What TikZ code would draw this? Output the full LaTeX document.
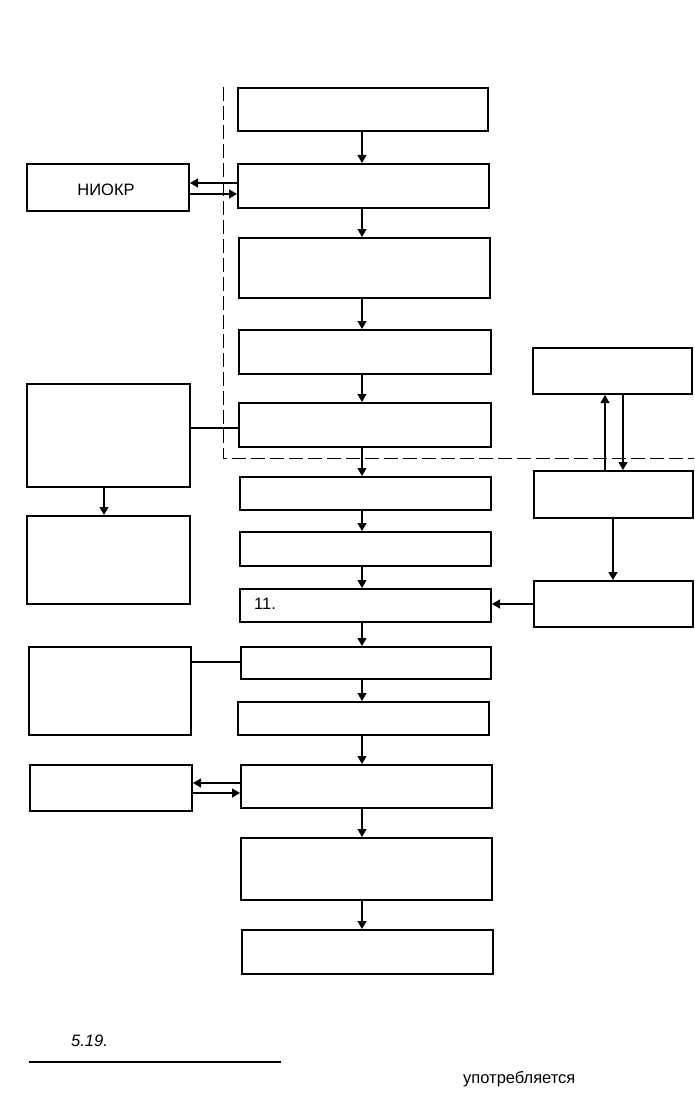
\documentclass[tikz,border=0pt]{standalone}
\usepackage{fontspec}
\setmainfont{Liberation Sans}
\usetikzlibrary{arrows.meta}
\begin{document}
\begin{tikzpicture}[x=1pt,y=-1pt,
  box/.style={draw,line width=2pt,rectangle,inner sep=0pt,anchor=north west},
  arr/.style={line width=1.2pt,-{Triangle[length=8pt,width=9pt]}},
  link/.style={line width=1.2pt},
  frame/.style={line width=1pt,dash pattern=on 14pt off 5pt},
  lbl/.style={font=\fontsize{16.5}{19}\selectfont,inner sep=0pt}]
\useasboundingbox (0,0) rectangle (694,1118);
% main column
\node[box,minimum width=250pt,minimum height=43pt] (b1) at (237,87) {};
\node[box,minimum width=251pt,minimum height=44pt] (b2) at (237,163) {};
\node[box,minimum width=251pt,minimum height=60pt] (b3) at (238,237) {};
\node[box,minimum width=252pt,minimum height=44pt] (b4) at (238,329) {};
\node[box,minimum width=252pt,minimum height=44pt] (b5) at (238,402) {};
\node[box,minimum width=251pt,minimum height=33pt] (b6) at (239,476) {};
\node[box,minimum width=251pt,minimum height=34pt] (b7) at (239,531) {};
\node[box,minimum width=251pt,minimum height=33pt] (b8) at (239,588) {};
\node[box,minimum width=250pt,minimum height=32pt] (b9) at (240,646) {};
\node[box,minimum width=251pt,minimum height=33pt] (b10) at (237,701) {};
\node[box,minimum width=251pt,minimum height=43pt] (b11) at (240,764) {};
\node[box,minimum width=251pt,minimum height=62pt] (b12) at (240,837) {};
\node[box,minimum width=251pt,minimum height=44pt] (b13) at (241,929) {};
% left column
\node[box,minimum width=162pt,minimum height=47pt] (L1) at (26,163) {};
\node[box,minimum width=163pt,minimum height=103pt] (L2) at (26,383) {};
\node[box,minimum width=163pt,minimum height=88pt] (L3) at (26,515) {};
\node[box,minimum width=162pt,minimum height=88pt] (L4) at (28,646) {};
\node[box,minimum width=162pt,minimum height=46pt] (L5) at (29,764) {};
% right column
\node[box,minimum width=159pt,minimum height=46pt] (R1) at (532,347) {};
\node[box,minimum width=159pt,minimum height=47pt] (R2) at (533,470) {};
\node[box,minimum width=159pt,minimum height=46pt] (R3) at (533,580) {};
% texts
\node[lbl] (t1) at (106,190) {НИОКР};
\node[lbl,anchor=base west] (t2) at (254,609) {11.};
\node[lbl,anchor=base west] (t3) at (71,1046) {\itshape 5.19.};
\node[lbl,anchor=base west] (t4) at (463,1083) {употребляется};
% dashed frame
\coordinate (d1) at (223,87);
\coordinate (d2) at (223,458);
\coordinate (d3) at (694,458);
\draw[frame] (d1) -- (d2) -- (d3);
% main column arrows
\foreach \a/\b in {b1/b2,b2/b3,b3/b4,b4/b5,b5/b6,b6/b7,b7/b8,b8/b9,b9/b10,b10/b11,b11/b12,b12/b13}
  \draw[arr] (\a.south -| 362,0) -- (\b.north -| 362,0);
% side connectors
\draw[arr] (b2.west |- 0,183) -- (L1.east |- 0,183);
\draw[arr] (L1.east |- 0,194) -- (b2.west |- 0,194);
\draw[link] (L2.east |- 0,428) -- (b5.west |- 0,428);
\draw[arr] (L2.south -| 104,0) -- (L3.north -| 104,0);
\draw[link] (L4.east |- 0,662) -- (b9.west |- 0,662);
\draw[arr] (b11.west |- 0,783) -- (L5.east |- 0,783);
\draw[arr] (L5.east |- 0,793) -- (b11.west |- 0,793);
\draw[arr] (R2.north -| 605,0) -- (R1.south -| 605,0);
\draw[arr] (R1.south -| 623,0) -- (R2.north -| 623,0);
\draw[arr] (R2.south -| 613,0) -- (R3.north -| 613,0);
\draw[arr] (R3.west |- 0,604) -- (b8.east |- 0,604);
% footnote rule
\coordinate (f1) at (29,1062);
\coordinate (f2) at (281,1062);
\draw[link] (f1) -- (f2);
\end{tikzpicture}
\end{document}
